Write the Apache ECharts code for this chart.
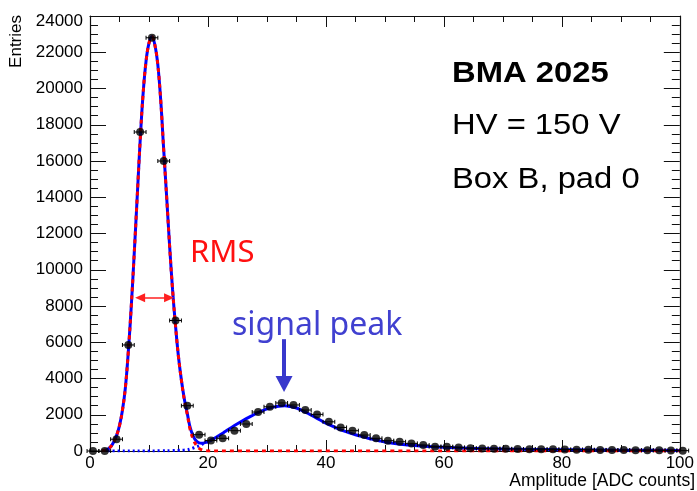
<!DOCTYPE html>
<html lang="en">
<head>
<meta charset="UTF-8">
<title>BMA 2025 - amplitude spectrum</title>
<script src="https://cdn.jsdelivr.net/npm/echarts@6/dist/echarts.min.js"></script>
<style>
    html, body { margin: 0; padding: 0; background: #fff; }
    #chart { width: 697px; height: 491px; }
</style>
</head>
<body>
<div id="chart"></div>
<script>
// histogram bins (width 2 ADC counts)
var binX = [0.5, 2.5, 4.5, 6.5, 8.5, 10.5, 12.5, 14.5, 16.5, 18.5,
    20.5, 22.5, 24.5, 26.5, 28.5, 30.5, 32.5, 34.5, 36.5, 38.5,
    40.5, 42.5, 44.5, 46.5, 48.5, 50.5, 52.5, 54.5, 56.5, 58.5,
    60.5, 62.5, 64.5, 66.5, 68.5, 70.5, 72.5, 74.5, 76.5, 78.5,
    80.5, 82.5, 84.5, 86.5, 88.5, 90.5, 92.5, 94.5, 96.5, 98.5, 100.5];
var binY = [0, 0, 650, 5850, 17600, 22800, 16000, 7200, 2500, 900,
    580, 700, 1120, 1490, 2150, 2440, 2650, 2540, 2260, 2020,
    1610, 1300, 1120, 880, 700, 570, 510, 420, 330, 240,
    240, 200, 150, 140, 130, 120, 110, 100, 95, 90,
    80, 75, 70, 60, 55, 50, 45, 40, 35, 30, 20];

// total fit (blue solid)
var totalX = [2, 2.5, 3, 3.5, 4, 4.5, 5, 5.5, 6, 6.5, 7, 7.5, 8, 8.5, 9, 9.5, 10, 10.5,
    11, 11.5, 12, 12.5, 13, 13.5, 14, 14.5, 15, 15.5, 16, 16.5, 17, 17.5, 18, 18.5, 19, 19.5, 20,
    21, 22, 23, 24, 25, 26, 27, 28, 29, 30, 31, 32, 33, 34, 35, 36, 37, 38, 39, 40,
    41, 42, 43, 44, 45, 46, 47, 48, 49, 50, 52, 54, 56, 58, 60, 62, 64, 66, 70, 75, 80, 85, 90, 95, 100];
var totalY = [10, 40, 100, 230, 480, 850, 1400, 2250, 3500, 5500, 8000, 10900, 14000, 17100, 19700, 21500, 22500, 22850,
    22400, 21300, 19300, 16600, 14000, 11300, 8900, 6900, 5200, 3900, 2850, 2060, 1270, 820, 560, 450, 430, 460, 515,
    680, 880, 1090, 1300, 1500, 1690, 1870, 2040, 2190, 2320, 2420, 2470, 2490, 2450, 2370, 2230, 2070, 1890, 1710, 1530,
    1390, 1240, 1110, 1000, 900, 810, 720, 640, 570, 500, 400, 335, 280, 240, 205, 180, 155, 135, 110, 85, 70, 55, 45, 38, 32];

// pedestal gaussian (red dashed)
var pedX = [2, 2.5, 3, 3.5, 4, 4.5, 5, 5.5, 6, 6.5, 7, 7.5, 8, 8.5, 9, 9.5, 10, 10.5,
    11, 11.5, 12, 12.5, 13, 13.5, 14, 14.5, 15, 15.5, 16, 16.5, 17, 17.5, 18, 18.5, 19, 19.5, 20, 21, 100];
var pedY = [10, 40, 100, 230, 480, 850, 1400, 2250, 3500, 5500, 8000, 10900, 14000, 17100, 19700, 21500, 22500, 22850,
    22400, 21300, 19300, 16600, 14000, 11300, 8900, 6900, 5200, 3900, 2800, 2000, 1150, 650, 330, 150, 60, 20, 5, 0, 0];

// signal component (blue dotted)
var sigX = [3, 6, 9, 12, 14, 15, 16, 16.5, 17, 17.5, 18, 18.5, 19, 19.5, 20, 20.5, 21];
var sigY = [0, 0, 3, 10, 22, 35, 50, 65, 110, 165, 225, 295, 370, 440, 515, 595, 680];

var chart = echarts.init(document.getElementById('chart'));

function pairs(xs, ys) {
    return xs.map(function (x, i) { return [x, ys[i]]; });
}

var fontAxis = '"Liberation Sans", Arial, sans-serif';
var axisCol = '#111';

function xAx(pos, labels) {
    return {
        type: 'value', position: pos, min: 0, max: 100, interval: 20,
        axisLine: { show: true, onZero: false, lineStyle: { color: axisCol, width: 1.2 } },
        axisTick: { show: true, inside: true, length: 11, lineStyle: { color: axisCol } },
        minorTick: { show: true, splitNumber: 4, length: 6, lineStyle: { color: axisCol } },
        splitLine: { show: false },
        axisLabel: { show: labels, fontSize: 17, color: '#000', margin: 4, fontFamily: fontAxis }
    };
}
function yAx(pos, labels) {
    return {
        type: 'value', position: pos, min: 0, max: 24000, interval: 2000,
        axisLine: { show: true, onZero: false, lineStyle: { color: axisCol, width: 1.2 } },
        axisTick: { show: true, inside: true, length: 16, lineStyle: { color: axisCol } },
        minorTick: { show: true, splitNumber: 4, length: 8, lineStyle: { color: axisCol } },
        splitLine: { show: false },
        axisLabel: {
            show: labels, fontSize: 17, color: '#000', margin: 7, fontFamily: fontAxis,
            // top label sits a bit lower, like ROOT does
            formatter: function (v) { return v === 24000 ? '{t|' + v + '}' : String(v); },
            rich: { t: { fontSize: 17, fontFamily: fontAxis, color: '#000', padding: [11, 0, 0, 0] } }
        }
    };
}

var option = {
    animation: false,
    backgroundColor: '#fff',
    grid: { left: 90, top: 16, width: 596, height: 435 },
    xAxis: [xAx('bottom', true), xAx('top', false)],
    yAxis: [yAx('left', true), yAx('right', false)],
    series: [
        {
            name: 'total', type: 'line', data: pairs(totalX, totalY),
            showSymbol: false, smooth: 0.4, z: 2,
            lineStyle: { color: '#0000ff', width: 3 }
        },
        {
            name: 'pedestal', type: 'line', data: pairs(pedX, pedY),
            showSymbol: false, smooth: 0.4, z: 3,
            lineStyle: { color: '#ff0000', width: 3, type: [4, 4] }
        },
        {
            name: 'signal', type: 'line', data: pairs(sigX, sigY),
            showSymbol: false, smooth: 0.4, z: 2,
            lineStyle: { color: '#0000ff', width: 3, type: [2, 3] }
        },
        {
            // horizontal error bars (bin width)
            name: 'xerr', type: 'custom', z: 5, clip: false,
            data: pairs(binX, binY),
            renderItem: function (params, api) {
                var x = api.value(0), y = api.value(1);
                var a = api.coord([x - 1, y]);
                var b = api.coord([x + 1, y]);
                var st = { stroke: '#000', lineWidth: 1 };
                return {
                    type: 'group',
                    children: [
                        { type: 'line', shape: { x1: a[0], y1: a[1], x2: b[0], y2: b[1] }, style: st },
                        { type: 'line', shape: { x1: a[0], y1: a[1] - 2, x2: a[0], y2: a[1] + 2 }, style: st },
                        { type: 'line', shape: { x1: b[0], y1: b[1] - 2, x2: b[0], y2: b[1] + 2 }, style: st }
                    ]
                };
            }
        },
        {
            name: 'data', type: 'scatter', data: pairs(binX, binY), z: 6, clip: false,
            symbol: 'circle', symbolSize: 8, itemStyle: { color: '#000' }
        },
        {
            // RMS double arrow
            name: 'rms', type: 'line', data: [], z: 7,
            markLine: {
                silent: true, animation: false,
                symbol: ['triangle', 'triangle'], symbolSize: [9, 10],
                label: { show: false },
                lineStyle: { color: '#ff2020', width: 1.5, type: 'solid' },
                data: [[{ coord: [8.5, 8450] }, { coord: [13.4, 8450] }]]
            }
        },
        {
            // signal peak arrow
            name: 'peak', type: 'line', data: [], z: 7,
            markLine: {
                silent: true, animation: false,
                symbol: ['none', 'triangle'], symbolSize: [17, 16],
                label: { show: false },
                lineStyle: { color: '#3838cc', width: 4, type: 'solid' },
                data: [[{ coord: [32.9, 6170] }, { coord: [32.9, 3700] }]]
            }
        }
    ],
    graphic: [
        {
            type: 'text', x: 16.4, y: 15, rotation: Math.PI / 2,
            style: { text: 'Entries', font: '17px ' + fontAxis, fill: '#000',
                align: 'right', textAlign: 'right', verticalAlign: 'middle', textVerticalAlign: 'middle' }
        },
        {
            type: 'text', x: 695, y: 481,
            style: { text: 'Amplitude [ADC counts]', font: '17.5px ' + fontAxis, fill: '#000',
                align: 'right', textAlign: 'right', verticalAlign: 'middle', textVerticalAlign: 'middle' }
        },
        {
            type: 'text', x: 452, y: 73.7, scaleX: 1.13,
            style: { text: 'BMA 2025', font: 'bold 29px ' + fontAxis, fill: '#000',
                verticalAlign: 'middle', textVerticalAlign: 'middle' }
        },
        {
            type: 'text', x: 452, y: 126, scaleX: 1.13,
            style: { text: 'HV = 150 V', font: '29px ' + fontAxis, fill: '#000',
                verticalAlign: 'middle', textVerticalAlign: 'middle' }
        },
        {
            type: 'text', x: 452, y: 180, scaleX: 1.13,
            style: { text: 'Box B, pad 0', font: '29px ' + fontAxis, fill: '#000',
                verticalAlign: 'middle', textVerticalAlign: 'middle' }
        },
        {
            type: 'text', x: 190, y: 253,
            style: { text: 'RMS', font: '31px "Noto Sans", sans-serif', fill: '#ff1010',
                verticalAlign: 'middle', textVerticalAlign: 'middle' }
        },
        {
            type: 'text', x: 232, y: 326,
            style: { text: 'signal peak', font: '32px "Noto Sans", sans-serif', fill: '#4040d0',
                verticalAlign: 'middle', textVerticalAlign: 'middle' }
        }
    ]
};

chart.setOption(option);
</script>
</body>
</html>
